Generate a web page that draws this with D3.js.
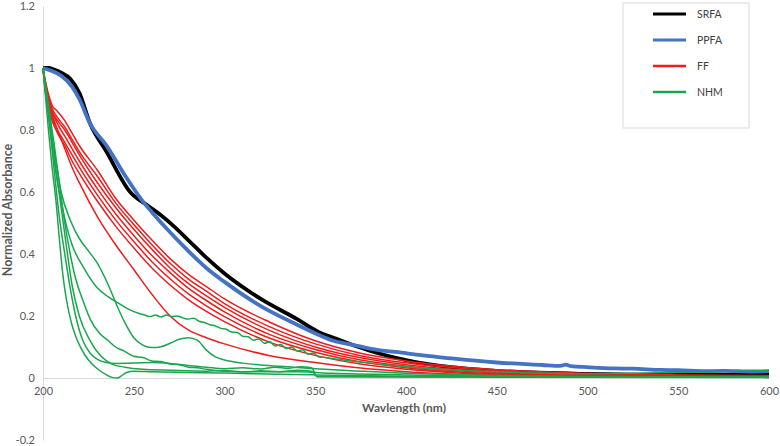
<!DOCTYPE html>
<html>
<head>
<meta charset="utf-8">
<script src="https://cdn.jsdelivr.net/npm/d3@7"></script>
<style>
  body { margin: 0; background: #fff; }
  #chart { width: 780px; height: 446px; }
  text { font-family: Lato, "Liberation Sans", sans-serif; }
</style>
</head>
<body>
<div id="chart"></div>
<script>
// Normalized absorbance spectra – SRFA / PPFA / FF / NHM

const yTicks = [-0.2, 0, 0.2, 0.4, 0.6, 0.8, 1, 1.2];
const xTicks = [200, 250, 300, 350, 400, 450, 500, 550, 600];
const legendNames = ["SRFA", "PPFA", "FF", "NHM"];

// SRFA (black)
const srfaWl = [200, 203, 206, 210, 215, 220, 226, 235, 248, 258, 265, 272, 280, 290, 300, 320, 340, 352, 360, 370, 380, 400, 425, 450, 500, 550, 600];
const srfaAbs = [1.0, 1.0, 0.995, 0.985, 0.965, 0.92, 0.82, 0.73, 0.6, 0.555, 0.525, 0.49, 0.445, 0.388, 0.337, 0.255, 0.19, 0.148, 0.13, 0.108, 0.088, 0.058, 0.035, 0.023, 0.013, 0.01, 0.01];

// PPFA (blue)
const ppfaWl = [200, 205, 210, 216, 220, 226, 235, 245, 255, 260, 270, 280, 290, 300, 320, 340, 352, 360, 370, 380, 400, 425, 450, 475, 485, 488, 491, 500, 515, 525, 540, 550, 565, 575, 590, 600];
const ppfaAbs = [1.0, 0.99, 0.975, 0.94, 0.9, 0.82, 0.75, 0.655, 0.57, 0.535, 0.47, 0.41, 0.355, 0.31, 0.232, 0.172, 0.139, 0.12, 0.108, 0.095, 0.08, 0.063, 0.05, 0.042, 0.039, 0.043, 0.038, 0.035, 0.031, 0.03, 0.026, 0.025, 0.022, 0.023, 0.021, 0.022];

// FF (red), shared wavelength grid
const ffWl = [200, 202, 205, 208, 212, 216, 220, 230, 240, 250, 260, 270, 280, 290, 300, 325, 350, 375, 400, 450, 500, 550, 600];
const ffAbs = [
  [1.0, 0.94, 0.88, 0.86, 0.83, 0.79, 0.75, 0.67, 0.58, 0.51, 0.445, 0.385, 0.335, 0.295, 0.255, 0.18, 0.12, 0.08, 0.055, 0.027, 0.015, 0.01, 0.008],
  [1.0, 0.93, 0.87, 0.84, 0.81, 0.77, 0.73, 0.65, 0.565, 0.495, 0.43, 0.37, 0.32, 0.28, 0.24, 0.165, 0.11, 0.072, 0.049, 0.023, 0.013, 0.008, 0.006],
  [1.0, 0.92, 0.86, 0.83, 0.8, 0.76, 0.72, 0.63, 0.55, 0.48, 0.415, 0.355, 0.305, 0.265, 0.228, 0.153, 0.1, 0.065, 0.043, 0.019, 0.01, 0.007, 0.005],
  [1.0, 0.91, 0.86, 0.82, 0.78, 0.74, 0.7, 0.61, 0.53, 0.46, 0.395, 0.34, 0.29, 0.25, 0.213, 0.14, 0.092, 0.058, 0.038, 0.016, 0.008, 0.005, 0.004],
  [1.0, 0.9, 0.84, 0.8, 0.76, 0.72, 0.68, 0.59, 0.51, 0.44, 0.375, 0.32, 0.272, 0.233, 0.198, 0.128, 0.083, 0.052, 0.033, 0.013, 0.007, 0.005, 0.004],
  [1.0, 0.89, 0.83, 0.79, 0.75, 0.7, 0.66, 0.57, 0.49, 0.42, 0.355, 0.3, 0.253, 0.215, 0.182, 0.115, 0.073, 0.045, 0.028, 0.011, 0.006, 0.004, 0.003],
  [1.0, 0.9, 0.85, 0.8, 0.74, 0.68, 0.63, 0.52, 0.43, 0.35, 0.27, 0.2, 0.155, 0.13, 0.11, 0.072, 0.05, 0.032, 0.02, 0.008, 0.004, 0.003, 0.002]
];

// NHM (green), [wavelength, absorbance] pairs per sample
const nhmPlateau = [[200, 1], [202, 0.9], [204, 0.8], [206, 0.71], [208, 0.63], [210, 0.57], [213, 0.49], [216, 0.43], [222, 0.36], [230, 0.29], [236, 0.262], [242, 0.24], [247, 0.222], [253, 0.208], [256, 0.203], [259, 0.198], [262, 0.203], [265, 0.197], [268, 0.203], [271, 0.198], [274, 0.2], [277, 0.194], [280, 0.19], [283, 0.193], [286, 0.183], [289, 0.179], [292, 0.172], [295, 0.168], [298, 0.16], [301, 0.157], [304, 0.148], [307, 0.147], [310, 0.135], [313, 0.133], [316, 0.122], [319, 0.126], [322, 0.112], [325, 0.117], [328, 0.103], [331, 0.108], [334, 0.095], [337, 0.1], [340, 0.087], [343, 0.091], [346, 0.077], [349, 0.081], [352, 0.068], [356, 0.066], [360, 0.062], [370, 0.055], [380, 0.048], [390, 0.042], [400, 0.036], [420, 0.028], [450, 0.02], [500, 0.014], [550, 0.018], [600, 0.024]];
const nhmHump = [[200, 1], [203, 0.86], [206, 0.74], [210, 0.6], [215, 0.51], [220, 0.45], [225, 0.41], [230, 0.37], [236, 0.3], [241, 0.23], [245, 0.18], [250, 0.13], [255, 0.106], [260, 0.098], [265, 0.101], [270, 0.112], [275, 0.125], [280, 0.13], [285, 0.122], [290, 0.09], [295, 0.068], [300, 0.058], [310, 0.048], [320, 0.042], [335, 0.036], [350, 0.03], [375, 0.022], [400, 0.015], [450, 0.008], [500, 0.005], [600, 0.003]];
const nhmTail = [[200, 1], [203, 0.88], [206, 0.76], [209, 0.63], [212, 0.5], [215, 0.4], [218, 0.32], [222, 0.25], [226, 0.19], [231, 0.145], [236, 0.12], [240, 0.1], [245, 0.086], [250, 0.07], [255, 0.066], [260, 0.055], [265, 0.053], [270, 0.045], [275, 0.043], [280, 0.035], [285, 0.033], [290, 0.028], [300, 0.022], [320, 0.02], [340, 0.02], [360, 0.015], [400, 0.01], [450, 0.006], [500, 0.004], [600, 0.003]];
const nhmFlat = [[200, 1], [203, 0.85], [206, 0.68], [209, 0.52], [212, 0.4], [215, 0.29], [218, 0.2], [222, 0.12], [226, 0.08], [230, 0.06], [235, 0.05], [240, 0.047], [250, 0.048], [260, 0.05], [270, 0.047], [280, 0.04], [290, 0.035], [300, 0.03], [310, 0.033], [320, 0.029], [328, 0.035], [335, 0.031], [342, 0.036], [348, 0.033], [351, 0.004], [400, 0.003], [600, 0.002]];
const nhmLow = [[200, 1], [203, 0.86], [206, 0.72], [210, 0.55], [213, 0.42], [216, 0.3], [220, 0.2], [226, 0.12], [232, 0.07], [238, 0.045], [245, 0.035], [255, 0.028], [270, 0.025], [290, 0.022], [300, 0.024], [310, 0.019], [320, 0.023], [330, 0.02], [340, 0.025], [348, 0.022], [351, 0.005], [400, 0.004], [600, 0.003]];
const nhmDip = [[200, 1], [203, 0.8], [205, 0.68], [207, 0.58], [209, 0.45], [211, 0.33], [213, 0.25], [216, 0.17], [219, 0.12], [223, 0.075], [227, 0.045], [231, 0.025], [235, 0.01], [238, 0.002], [241, 0.0], [243, 0.006], [246, 0.018], [250, 0.022], [260, 0.02], [280, 0.018], [300, 0.016], [330, 0.012], [350, 0.01], [400, 0.006], [500, 0.003], [600, 0.002]];
const nhmCurves = [nhmPlateau, nhmHump, nhmTail, nhmFlat, nhmLow, nhmDip];

function renderSpectra(containerId) {
  const container = d3.select(`#${containerId}`);
  const width = 780;
  const height = 446;

  const svg = container.append("svg")
    .attr("width", width)
    .attr("height", height);

  const x = d3.scaleLinear().domain([200, 600]).range([43, 769]);
  const y = d3.scaleLinear().domain([-0.2, 1.2]).range([440, 6]);

  // Y axis (no ticks, light grey line)
  const yAxis = svg.append("g")
    .attr("transform", "translate(43,0)")
    .call(d3.axisLeft(y).tickValues(yTicks).tickSize(0).tickPadding(8)
      .tickFormat(d => String(+d.toFixed(1))));
  yAxis.select(".domain").attr("stroke", "#d9d9d9");
  yAxis.selectAll("text").attr("fill", "#595959").style("font-size", "11px");

  // X axis crossing at zero
  const xAxis = svg.append("g")
    .attr("transform", `translate(0,${y(0)})`)
    .call(d3.axisBottom(x).tickValues(xTicks).tickSize(0).tickPadding(9).tickFormat(d3.format("d")));
  xAxis.select(".domain").attr("stroke", "#d9d9d9");
  xAxis.selectAll("text").attr("fill", "#595959").style("font-size", "11px");

  const line = d3.line()
    .x(d => x(d[0]))
    .y(d => y(d[1]))
    .curve(d3.curveMonotoneX);

  const zip = (wl, abs) => wl.map((w, i) => [w, abs[i]]);

  const plot = svg.append("g").attr("fill", "none").attr("stroke-linejoin", "round");

  plot.append("path")
    .attr("d", line(zip(srfaWl, srfaAbs)))
    .attr("stroke", "#000")
    .attr("stroke-width", 3.8);

  plot.append("path")
    .attr("d", line(zip(ppfaWl, ppfaAbs)))
    .attr("stroke", "#4472c4")
    .attr("stroke-width", 3.8);

  plot.selectAll(".ff")
    .data(ffAbs)
    .join("path")
    .attr("class", "ff")
    .attr("d", d => line(zip(ffWl, d)))
    .attr("stroke", "#ee1c1c")
    .attr("stroke-width", 1.5);

  plot.selectAll(".nhm")
    .data(nhmCurves)
    .join("path")
    .attr("class", "nhm")
    .attr("d", d => line(d))
    .attr("stroke", "#1aa64e")
    .attr("stroke-width", 1.5);

  // Axis titles
  svg.append("text")
    .attr("x", 404)
    .attr("y", 412)
    .attr("text-anchor", "middle")
    .attr("fill", "#595959")
    .style("font-size", "12px")
    .style("font-weight", "bold")
    .text("Wavlength (nm)");

  svg.append("text")
    .attr("transform", "translate(12,210) rotate(-90)")
    .attr("text-anchor", "middle")
    .attr("fill", "#595959")
    .style("font-size", "12.5px")
    .style("font-weight", "bold")
    .text("Normalized Absorbance");

  // Legend
  const legendColors = ["#000", "#4472c4", "#ee1c1c", "#1aa64e"];
  const legendWidths = [3, 3, 2.5, 2.5];
  const legend = svg.append("g").attr("transform", "translate(623,3)");
  legend.append("rect")
    .attr("width", 126)
    .attr("height", 125)
    .attr("fill", "#fff")
    .attr("stroke", "#d9d9d9");
  const items = legend.selectAll(".item")
    .data(legendNames)
    .join("g")
    .attr("class", "item")
    .attr("transform", (d, i) => `translate(0,${11 + i * 26})`);
  items.append("line")
    .attr("x1", 30).attr("x2", 63)
    .attr("stroke", (d, i) => legendColors[i])
    .attr("stroke-width", (d, i) => legendWidths[i]);
  items.append("text")
    .attr("x", 74)
    .attr("dy", "0.35em")
    .attr("fill", "#404040")
    .style("font-size", "10.5px")
    .text(d => d);
}

document.addEventListener("DOMContentLoaded", () => {
  renderSpectra("chart");
});
</script>
</body>
</html>
